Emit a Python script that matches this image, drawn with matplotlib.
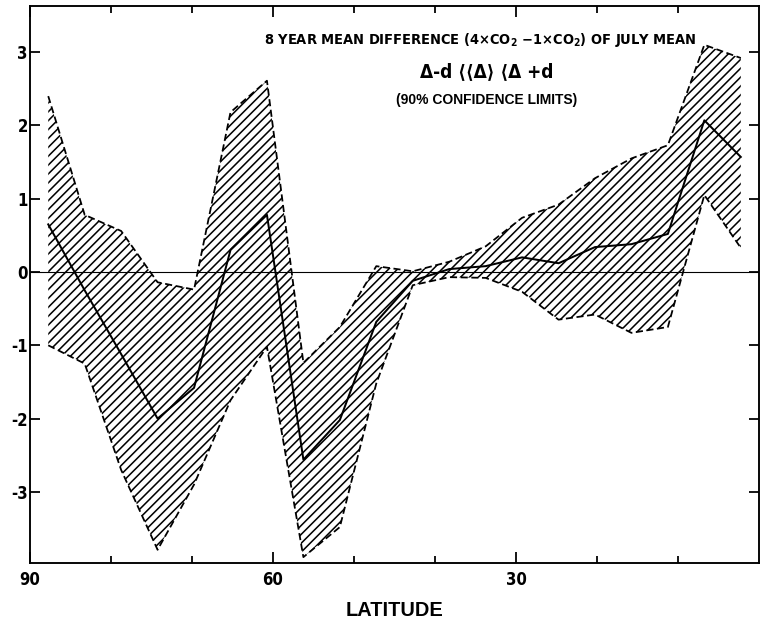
import matplotlib
matplotlib.use('Agg')
import matplotlib.pyplot as plt
from matplotlib.ticker import FixedLocator

# ---- data ----
lat = [87.75, 83.25, 78.75, 74.25, 69.75, 65.25, 60.75, 56.25, 51.75, 47.25,
       42.75, 38.25, 33.75, 29.25, 24.75, 20.25, 15.75, 11.25, 6.75, 2.25]
upper = [2.40, 0.78, 0.56, -0.14, -0.24, 2.18, 2.61, -1.24, -0.75, 0.08,
         0.01, 0.14, 0.35, 0.74, 0.92, 1.28, 1.55, 1.73, 3.10, 2.92]
mean = [0.65, -0.25, -1.12, -2.00, -1.58, 0.30, 0.78, -2.56, -2.02, -0.68,
        -0.12, 0.04, 0.08, 0.20, 0.12, 0.34, 0.38, 0.52, 2.07, 1.57]
lower = [-1.00, -1.25, -2.70, -3.79, -2.90, -1.75, -1.02, -3.89, -3.48, -1.52,
         -0.18, -0.07, -0.08, -0.27, -0.65, -0.58, -0.83, -0.75, 1.05, 0.33]

x_major = [90, 60, 30]
x_major_labels = ['90', '60', '30']
x_minor = [80, 70, 50, 40, 20, 10]
y_ticks = [-3, -2, -1, 0, 1, 2, 3]
y_labels = ['-3', '-2', '-1', '0', '1', '2', '3']

title1 = '8 YEAR MEAN DIFFERENCE (4\u00d7CO$_2$ \u22121\u00d7CO$_2$) OF JULY MEAN'
title2 = '\u0394-d \u27e8\u27e8\u0394\u27e9 \u27e8\u0394 +d'
title3 = '(90% CONFIDENCE LIMITS)'
xlabel = 'LATITUDE'

# ---- style ----
plt.rcParams['hatch.linewidth'] = 1.4
plt.rcParams['mathtext.default'] = 'regular'

fig = plt.figure(figsize=(9.5, 7.8), dpi=80)
ax = fig.add_axes([0.0395, 0.0978, 0.9592, 0.8926])
ax.set_xlim(90, 0)
ax.set_ylim(-3.97, 3.63)

ax.fill_between(lat, lower, upper, facecolor='none', edgecolor='black',
                hatch='///', linewidth=0)
ax.plot(lat, upper, color='black', lw=1.6, dashes=(4, 2))
ax.plot(lat, lower, color='black', lw=1.6, dashes=(4, 2))
ax.plot(lat, mean, color='black', lw=1.8)
ax.axhline(0, color='black', lw=1.0)

for s in ax.spines.values():
    s.set_linewidth(1.7)

ax.xaxis.set_major_locator(FixedLocator(x_major))
ax.xaxis.set_minor_locator(FixedLocator(x_minor))
ax.set_xticklabels(x_major_labels)
ax.set_yticks(y_ticks)
ax.set_yticklabels(y_labels)

ax.tick_params(which='both', direction='in', top=True, right=True, width=1.6)
ax.tick_params(axis='x', which='major', length=10, pad=7)
ax.tick_params(axis='x', which='minor', length=6)
ax.tick_params(axis='y', which='major', length=9, pad=2)

for lab in ax.get_xticklabels() + ax.get_yticklabels():
    lab.set_family('DejaVu Sans')
    lab.set_stretch('condensed')
    lab.set_fontweight('bold')
    lab.set_fontsize(15)

ax.text((480 - 30) / 729, 0.939, title1, transform=ax.transAxes, ha='center', va='center',
        family='DejaVu Sans', stretch='condensed', fontweight='bold', fontsize=13)
ax.text((487 - 30) / 729, 0.882, title2, transform=ax.transAxes, ha='center', va='center',
        family='DejaVu Sans', stretch='condensed', fontweight='bold', fontsize=17)
ax.text((487 - 30) / 729, 0.831, title3, transform=ax.transAxes, ha='center', va='center',
        family=['Liberation Sans', 'DejaVu Sans'], fontweight='bold', fontsize=12.5)

fig.text((30 + 759) / 2 / 760, 1 - 610 / 624, xlabel, ha='center', va='center',
         family=['Liberation Sans', 'DejaVu Sans'], fontweight='bold', fontsize=18)

fig.savefig('out.png', dpi=80)
